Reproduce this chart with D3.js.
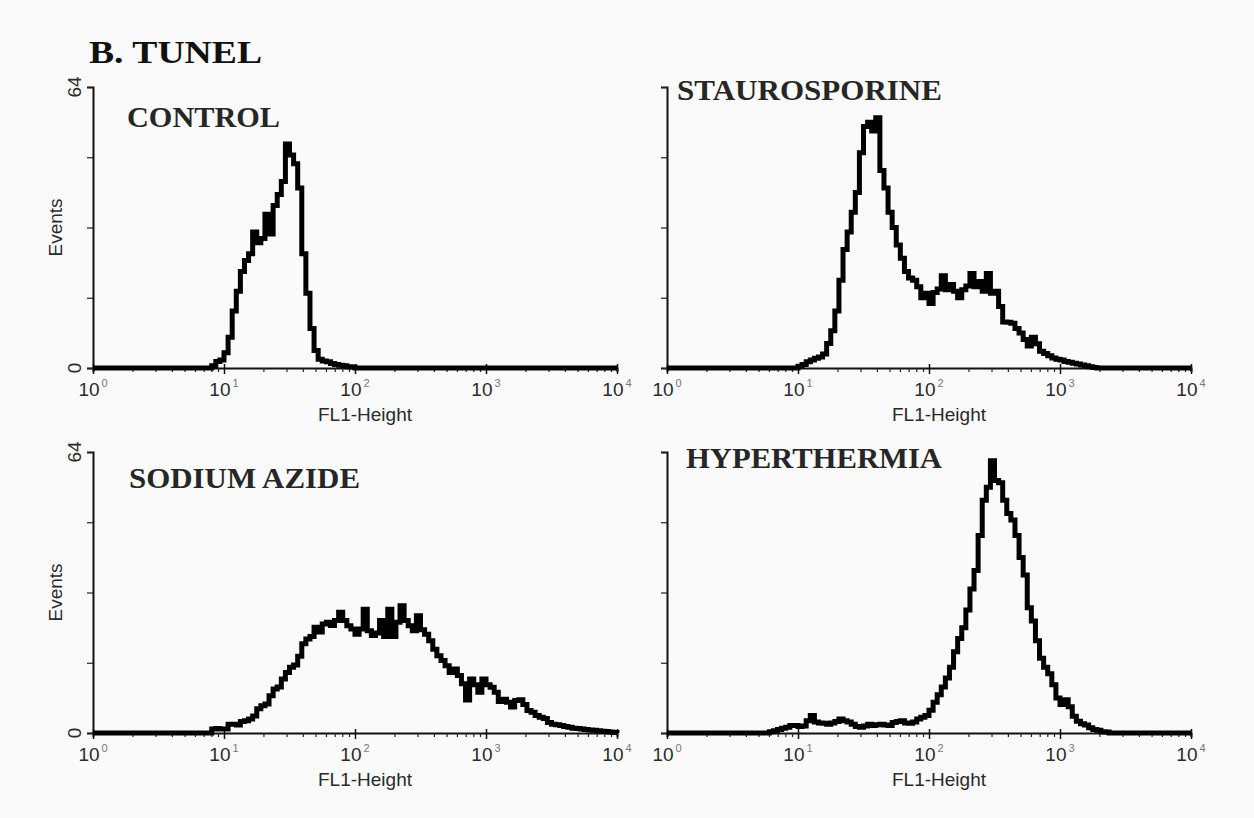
<!DOCTYPE html>
<html>
<head>
<meta charset="utf-8">
<script src="https://cdn.jsdelivr.net/npm/d3@7"></script>
<style>
  html, body { margin: 0; padding: 0; background: #fafafb; }
  svg { display: block; }
</style>
</head>
<body>
<svg id="chart" width="1254" height="818"></svg>
<script>
// ---------------- DATA ----------------
const figureTitle = "B. TUNEL";
const xLabel = "FL1-Height";
const yLabel = "Events";
const yMax = 64;
const yTicks = [0, 16, 32, 48, 64];
const yTickLabels = ["0", "64"];
const decadeTicks = [1, 10, 100, 1000, 10000];
const decadeExponents = ["0", "1", "2", "3", "4"];
const channelsPerDecade = 64;   // 256 log channels over 4 decades
const channelStep = 2;          // each listed count covers 2 channels
const totalChannels = 256;

const panelTitles = ["CONTROL", "STAUROSPORINE", "SODIUM AZIDE", "HYPERTHERMIA"];

const controlStart = 56;
const controlCounts = [0, 0.5, 1.5, 1.8, 3.5, 7, 13, 17.5, 22, 24.5, 26, 31, 28.5, 29.5, 35, 30.5,
  37, 39.5, 42.5, 51, 48.5, 46.5, 41, 26, 17, 9, 4, 2, 1.6, 1.4, 1, 0.8, 0.6, 0.5, 0.3, 0.2, 0];

const stauroStart = 62;
const stauroCounts = [0, 0.4, 0.8, 1.4, 1.8, 2.2, 2.5, 3.2, 5.6, 8.5, 13, 20, 27, 31, 35.5, 40,
  49, 55, 56, 54, 57, 45, 41, 35.5, 32, 28, 25, 22, 20.5, 20, 18.5, 16, 17, 14.7, 17.2, 18,
  21, 17.8, 19, 17.5, 16, 17.8, 18.7, 21.5, 18.5, 19.7, 17.5, 21.5, 17, 17.5, 14, 10.5, 10.4, 10.2,
  9, 8, 6.5, 5, 7, 5.5, 3.8, 3.3, 2.8, 2.3, 2, 1.8, 1.5, 1.3, 1.1, 0.9, 0.7, 0.5, 0.3, 0.1, 0];

const azideStart = 56;
const azideCounts = [0, 0.9, 1.0, 0.9, 0.9, 2.0, 2.0, 1.8, 2.6, 2.8, 3.2, 3.9, 5.5, 6.2, 6.6, 8.5,
  10, 10.5, 12.3, 13.8, 15, 15.5, 17.5, 20.3, 21.4, 22, 24.1, 23, 24.8, 25.2, 24.5, 25.6, 27.5, 25.6,
  24.4, 23.7, 22.5, 23.7, 28.2, 23.3, 22.2, 22.8, 25.6, 22, 28.2, 22, 25.2, 29, 25.6, 24.4, 23.3,
  26.7, 23.5, 22.5, 21, 19.1, 17.6, 16.5, 15.3, 13.8, 14.6, 13.1, 11.2, 7.5, 12.3, 11, 9.3, 12.3,
  11, 10.4, 9.3, 7.2, 7.7, 7.0, 5.9, 7.4, 7.6, 6.5, 5.1, 4.7, 4.0, 3.6, 3.3, 2.4, 2.0, 1.9, 1.7,
  1.5, 1.3, 1.1, 1.0, 0.9, 0.8, 0.7, 0.6, 0.5, 0.4, 0.35, 0.2, 0.1, 0];

const hyperStart = 48;
const hyperCounts = [0, 0.3, 0.5, 0.8, 1.1, 1.3, 1.7, 1.7, 1.5, 1.6, 2.8, 4.0, 2.5, 2.3, 2.2, 2.0,
  2.3, 2.6, 3.2, 2.8, 2.5, 2.0, 1.5, 1.3, 1.6, 2.0, 1.7, 1.9, 2.0, 1.8, 1.7, 2.4, 2.6, 2.8, 2.3,
  2.2, 2.5, 3.2, 3.6, 4.0, 5.2, 7.0, 8.7, 10.5, 12.5, 15, 18.5, 21.5, 24, 28, 32.8, 37, 45, 53, 56,
  62, 57.5, 57, 53, 50, 48.5, 45, 40, 36, 28.5, 25.5, 21, 17, 15, 13.5, 11, 8, 6.5, 7.6, 6, 3.8,
  2.7, 2.1, 1.8, 1.2, 0.8, 0.6, 0.3, 0.2, 0];

const seriesList = [
  { start: controlStart, counts: controlCounts },
  { start: stauroStart, counts: stauroCounts },
  { start: azideStart, counts: azideCounts },
  { start: hyperStart, counts: hyperCounts }
];

// ---------------- LAYOUT ----------------
const plotW = 524, plotH = 281;
const panelPos = [
  { x: 93,  y: 87,  showY: true,  title: { x: 127, y: 127, len: 153 } },
  { x: 667, y: 87,  showY: false, title: { x: 677, y: 100, len: 265 } },
  { x: 93,  y: 452, showY: true,  title: { x: 129, y: 488, len: 231 } },
  { x: 667, y: 452, showY: false, title: { x: 686, y: 468, len: 256 } }
];

const svg = d3.select("#chart");
svg.append("rect").attr("width", 1254).attr("height", 818).attr("fill", "#fafafb");

svg.append("text")
  .attr("x", 89).attr("y", 63)
  .attr("font-family", "'Liberation Serif', 'Times New Roman', serif")
  .attr("font-weight", "bold").attr("font-size", 31)
  .attr("textLength", 173).attr("lengthAdjust", "spacingAndGlyphs")
  .attr("fill", "#111")
  .text(figureTitle);

const x = d3.scaleLog().domain([1, 10000]).range([0, plotW]);
const y = d3.scaleLinear().domain([0, yMax]).range([plotH, 0]);

const minorTicks = [];
for (let k = 0; k < 4; k++) for (let m = 2; m <= 9; m++) minorTicks.push(m * Math.pow(10, k));

const sansFont = "'Liberation Sans', Arial, Helvetica, sans-serif";

seriesList.forEach((s, i) => {
  const p = panelPos[i];
  const g = svg.append("g").attr("transform", `translate(${p.x},${p.y})`);

  // x axis: minor ticks
  g.append("g").attr("transform", `translate(0,${plotH})`)
    .call(d3.axisBottom(x).tickValues(minorTicks).tickSize(4).tickFormat(""))
    .call(a => a.select(".domain").attr("stroke", "#111").attr("stroke-width", 2))
    .call(a => a.selectAll(".tick line").attr("stroke", "#222").attr("stroke-width", 1.2));
  // x axis: major ticks
  g.append("g").attr("transform", `translate(0,${plotH})`)
    .call(d3.axisBottom(x).tickValues(decadeTicks).tickSize(6).tickFormat(""))
    .call(a => a.select(".domain").remove())
    .call(a => a.selectAll(".tick line").attr("stroke", "#111").attr("stroke-width", 1.5).attr("y1", -4));

  // decade labels 10^k
  decadeTicks.forEach((v, k) => {
    const t = g.append("text")
      .attr("x", x(v)).attr("y", plotH + 28)
      .attr("text-anchor", "middle")
      .attr("font-family", sansFont).attr("font-size", 19).attr("fill", "#2a2a2a");
    t.append("tspan").text("10");
    t.append("tspan").attr("dx", 2).attr("dy", -9).attr("font-size", 11).attr("fill", "#777")
      .text(decadeExponents[k]);
  });

  g.append("text")
    .attr("x", plotW / 2 + 10).attr("y", plotH + 53)
    .attr("text-anchor", "middle")
    .attr("font-family", sansFont).attr("font-size", 19).attr("fill", "#2a2a2a")
    .text(xLabel);

  // y axis
  g.append("g")
    .call(d3.axisLeft(y).tickValues(yTicks).tickSize(6).tickFormat(""))
    .call(a => a.select(".domain").attr("stroke", "#111").attr("stroke-width", 2))
    .call(a => a.selectAll(".tick line").attr("stroke", "#222").attr("stroke-width", 1.2));

  if (p.showY) {
    [0, yMax].forEach((v, k) => {
      g.append("text")
        .attr("transform", `translate(-12,${y(v)}) rotate(-90)`)
        .attr("text-anchor", "middle")
        .attr("font-family", sansFont).attr("font-size", 19).attr("fill", "#2a2a2a")
        .text(yTickLabels[k]);
    });
    g.append("text")
      .attr("transform", `translate(-31,${plotH / 2}) rotate(-90)`)
      .attr("text-anchor", "middle")
      .attr("font-family", sansFont).attr("font-size", 19).attr("fill", "#2a2a2a")
      .text(yLabel);
  }

  // histogram step line
  const pts = [{ v: 1, n: 0 }];
  s.counts.forEach((n, j) => {
    pts.push({ v: Math.pow(10, (s.start + j * channelStep) / channelsPerDecade), n: n });
  });
  pts.push({ v: Math.pow(10, totalChannels / channelsPerDecade), n: 0 });

  const line = d3.line()
    .x(d => x(d.v)).y(d => y(d.n))
    .curve(d3.curveStepAfter);

  g.append("path")
    .datum(pts)
    .attr("d", line)
    .attr("fill", "none")
    .attr("stroke", "#000")
    .attr("stroke-width", 5)
    .attr("stroke-linejoin", "miter")
    .attr("stroke-linecap", "butt");

  // panel title
  svg.append("text")
    .attr("x", p.title.x).attr("y", p.title.y)
    .attr("font-family", "'Liberation Serif', 'Times New Roman', serif")
    .attr("font-weight", "bold").attr("font-size", 30)
    .attr("textLength", p.title.len).attr("lengthAdjust", "spacingAndGlyphs")
    .attr("fill", "#262626")
    .text(panelTitles[i]);
});
</script>
</body>
</html>
